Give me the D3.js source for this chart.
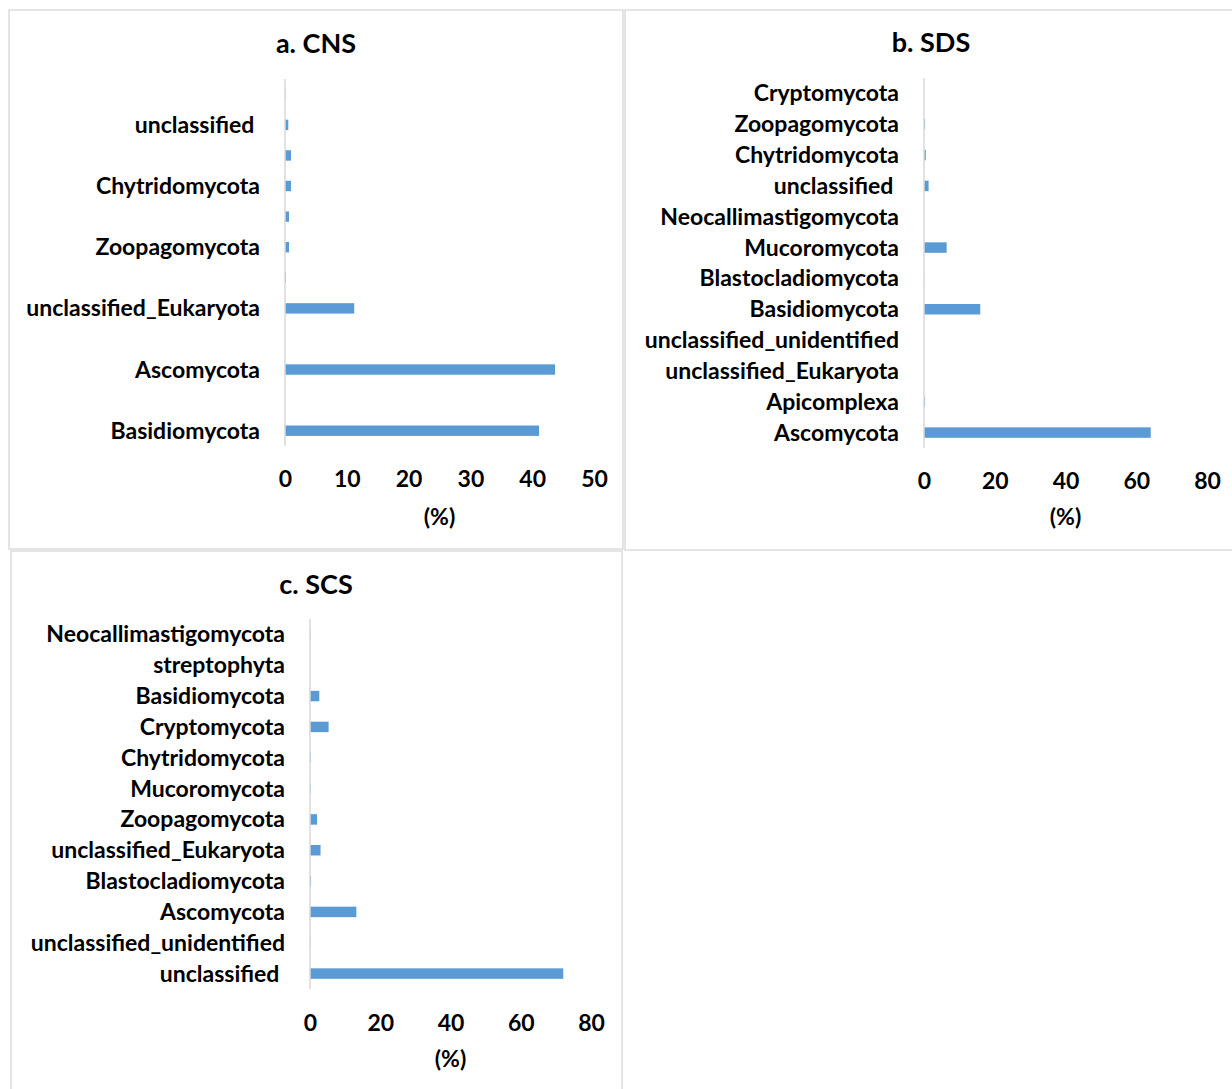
<!DOCTYPE html>
<html>
<head>
<meta charset="utf-8">
<script src="https://cdn.jsdelivr.net/npm/d3@7"></script>
<style>
  html, body { margin: 0; padding: 0; background: #fff; }
  svg text { font-family: Lato, "Open Sans", sans-serif; font-weight: 700; fill: #000; white-space: pre; }
</style>
</head>
<body>
<svg id="chart" width="1232" height="1089"></svg>
<script>
// Relative abundance (%) of phyla, listed from the bottom row upwards.
// a. CNS — every other category name is shown on the axis.
const cnsCategories = [
  "Basidiomycota", "unclassified_unidentified", "Ascomycota", "Apicomplexa",
  "unclassified_Eukaryota", "Blastocladiomycota", "Zoopagomycota", "Mucoromycota",
  "Chytridomycota", "Cryptomycota", "unclassified ", "Neocallimastigomycota"
];
const cnsValues = [41.1, 0, 43.7, 0, 11.2, 0.15, 0.65, 0.65, 0.97, 0.97, 0.53, 0.05];
const cnsTicks = [0, 10, 20, 30, 40, 50];

// b. SDS
const sdsCategories = [
  "Ascomycota", "Apicomplexa", "unclassified_Eukaryota", "unclassified_unidentified",
  "Basidiomycota", "Blastocladiomycota", "Mucoromycota", "Neocallimastigomycota",
  "unclassified ", "Chytridomycota", "Zoopagomycota", "Cryptomycota"
];
const sdsValues = [64.1, 0.3, 0, 0, 15.9, 0.05, 6.4, 0, 1.3, 0.5, 0.3, 0];
const sdsTicks = [0, 20, 40, 60, 80];

// c. SCS
const scsCategories = [
  "unclassified ", "unclassified_unidentified", "Ascomycota", "Blastocladiomycota",
  "unclassified_Eukaryota", "Zoopagomycota", "Mucoromycota", "Chytridomycota",
  "Cryptomycota", "Basidiomycota", "streptophyta", "Neocallimastigomycota"
];
const scsValues = [72.1, 0.1, 13.2, 0.3, 3.0, 2.0, 0.2, 0.2, 5.3, 2.65, 0, 0.1];
const scsTicks = [0, 20, 40, 60, 80];

const panelTitles = ["a. CNS", "b. SDS", "c. SCS"];
const axisTitle = "(%)";

const BAR = "#5b9bd5";
const GRID = "#d9d9d9";
const LABEL_SIZE = "23px";

const svg = d3.select("#chart");

function drawPanel(cfg) {
  const g = svg.append("g");

  // frame of the panel
  g.append("rect")
    .attr("x", cfg.frame[0]).attr("y", cfg.frame[1])
    .attr("width", cfg.frame[2]).attr("height", cfg.frame[3])
    .attr("fill", "#fff").attr("stroke", "#dcdcdc").attr("stroke-width", 1.5);

  const x = d3.scaleLinear().domain([0, cfg.ticks[cfg.ticks.length - 1]]).range([cfg.x0, cfg.x1]);
  const y = d3.scaleBand().domain(cfg.categories).range([cfg.y1, cfg.y0])
    .paddingInner(0.66).paddingOuter(0.33);

  // title
  g.append("text").attr("x", cfg.titlePos[0]).attr("y", cfg.titlePos[1])
    .attr("text-anchor", "middle").attr("dominant-baseline", "central")
    .style("font-size", "27px").text(cfg.title);

  // bars
  g.selectAll("rect.bar").data(cfg.categories.map((c, i) => ({ c, v: cfg.values[i] })))
    .join("rect").attr("class", "bar")
    .attr("x", x(0)).attr("y", d => y(d.c))
    .attr("width", d => x(d.v) - x(0)).attr("height", y.bandwidth())
    .attr("fill", BAR);

  // category axis
  const yAxis = d3.axisLeft(y).tickSize(0).tickPadding(25)
    .tickFormat((d, i) => (i % cfg.labelEvery === 0 ? d : ""));
  const ya = g.append("g").attr("transform", `translate(${x(0)},0)`).call(yAxis);
  ya.select(".domain").attr("stroke", GRID).attr("stroke-width", 1.5)
    .attr("d", `M0,${cfg.y0}V${cfg.y1}`);
  ya.selectAll("text").style("font-size", LABEL_SIZE).attr("dy", "0.35em")
    .style("font-family", "Lato, 'Open Sans', sans-serif").style("font-weight", 700);

  // value axis (labels only)
  const xAxis = d3.axisBottom(x).tickValues(cfg.ticks).tickSize(0).tickFormat(d3.format("d"));
  const xa = g.append("g").attr("transform", `translate(0,${cfg.tickY})`).call(xAxis);
  xa.select(".domain").remove();
  xa.selectAll("text").attr("y", 0).attr("dy", "0.35em").style("font-size", LABEL_SIZE)
    .style("font-family", "Lato, 'Open Sans', sans-serif").style("font-weight", 700);

  g.append("text").attr("x", (cfg.x0 + cfg.x1) / 2).attr("y", cfg.axisTitleY)
    .attr("text-anchor", "middle").attr("dominant-baseline", "central")
    .style("font-size", LABEL_SIZE).text(axisTitle);
}

drawPanel({
  frame: [9, 10, 614, 539], title: panelTitles[0], titlePos: [316, 42],
  categories: cnsCategories, values: cnsValues, ticks: cnsTicks, labelEvery: 2,
  x0: 285, x1: 594, y0: 79, y1: 446, tickY: 479, axisTitleY: 516
});
drawPanel({
  frame: [625, 10, 620, 540], title: panelTitles[1], titlePos: [931, 41],
  categories: sdsCategories, values: sdsValues, ticks: sdsTicks, labelEvery: 1,
  x0: 924, x1: 1207, y0: 78, y1: 448, tickY: 481, axisTitleY: 516
});
drawPanel({
  frame: [11, 551, 611, 560], title: panelTitles[2], titlePos: [316, 583],
  categories: scsCategories, values: scsValues, ticks: scsTicks, labelEvery: 1,
  x0: 310, x1: 591, y0: 619, y1: 989, tickY: 1023, axisTitleY: 1058
});
</script>
</body>
</html>
